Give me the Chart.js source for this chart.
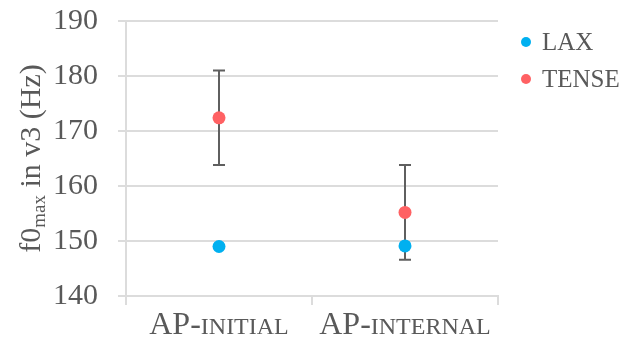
<!DOCTYPE html>
<html>
<head>
<meta charset="utf-8">
<script src="https://cdn.jsdelivr.net/npm/chart.js@4.4.1/dist/chart.umd.min.js"></script>
<style>
  html, body { margin: 0; padding: 0; background: #fff; }
  #wrap { width: 620px; height: 349px; }
</style>
</head>
<body>
<div id="wrap"><canvas id="f0Chart"></canvas></div>
<script>
const categories = ["AP-initial", "AP-internal"];
const laxValues = [149.0, 149.1];
const tenseValues = [172.4, 155.2];
const tenseErr = [8.6, 8.6];
const yTicks = [140, 150, 160, 170, 180, 190];

const SERIF = "'Liberation Serif', 'Times New Roman', serif";
const TEXT_GREY = "#595959";
const GRID_GREY = "#dcdcdc";

// vertical error bars for any dataset that carries an err array
const errorBars = {
  id: "errorBars",
  beforeDatasetsDraw(chart) {
    const ctx = chart.ctx;
    const yScale = chart.scales.y;
    chart.data.datasets.forEach((ds, i) => {
      if (!ds.err) return;
      const meta = chart.getDatasetMeta(i);
      ctx.save();
      ctx.strokeStyle = "#5f5f5f";
      ctx.lineWidth = 2;
      meta.data.forEach((pt, j) => {
        const top = yScale.getPixelForValue(ds.data[j] + ds.err[j]);
        const bot = yScale.getPixelForValue(ds.data[j] - ds.err[j]);
        ctx.beginPath();
        ctx.moveTo(pt.x, top);
        ctx.lineTo(pt.x, bot);
        ctx.moveTo(pt.x - 6, top);
        ctx.lineTo(pt.x + 6, top);
        ctx.moveTo(pt.x - 6, bot);
        ctx.lineTo(pt.x + 6, bot);
        ctx.stroke();
      });
      ctx.restore();
    });
  }
};

// category labels in small caps, axis title with subscript, legend on the right
const textLayer = {
  id: "textLayer",
  afterDraw(chart) {
    const ctx = chart.ctx;
    const area = chart.chartArea;
    const xScale = chart.scales.x;
    ctx.save();
    ctx.fillStyle = TEXT_GREY;
    ctx.textBaseline = "alphabetic";

    categories.forEach((label, i) => {
      const cut = label.indexOf("-") + 1;
      const head = label.slice(0, cut);
      const tail = label.slice(cut).toUpperCase();
      ctx.font = "32px " + SERIF;
      const wHead = ctx.measureText(head).width;
      ctx.font = "24px " + SERIF;
      const wTail = ctx.measureText(tail).width;
      const x0 = xScale.getPixelForValue(i) - (wHead + wTail) / 2;
      ctx.textAlign = "left";
      ctx.font = "32px " + SERIF;
      ctx.fillText(head, x0, 334);
      ctx.font = "24px " + SERIF;
      ctx.fillText(tail, x0 + wHead, 334);
    });

    const parts = [
      { t: "f0", size: 30, dy: 0 },
      { t: "max", size: 19, dy: 5 },
      { t: " in v3 (Hz)", size: 30, dy: 0 }
    ];
    let total = 0;
    parts.forEach(p => {
      ctx.font = p.size + "px " + SERIF;
      p.w = ctx.measureText(p.t).width;
      total += p.w;
    });
    ctx.translate(40, (area.top + area.bottom) / 2);
    ctx.rotate(-Math.PI / 2);
    let cx = -total / 2;
    parts.forEach(p => {
      ctx.font = p.size + "px " + SERIF;
      ctx.fillText(p.t, cx, p.dy);
      cx += p.w;
    });
    ctx.restore();

    ctx.save();
    ctx.font = "25px " + SERIF;
    ctx.textBaseline = "middle";
    chart.data.datasets.forEach((ds, i) => {
      const cy = 42 + i * 37;
      ctx.fillStyle = ds.pointBackgroundColor;
      ctx.beginPath();
      ctx.arc(526, cy, 5, 0, Math.PI * 2);
      ctx.fill();
      ctx.fillStyle = TEXT_GREY;
      ctx.fillText(ds.label, 542, cy + 1);
    });
    ctx.restore();
  }
};

new Chart(document.getElementById("f0Chart"), {
  type: "line",
  data: {
    labels: categories,
    datasets: [
      {
        label: "LAX",
        data: laxValues,
        showLine: false,
        pointRadius: 6.5,
        pointHoverRadius: 6.5,
        pointBorderWidth: 0,
        pointBackgroundColor: "#00b0f0"
      },
      {
        label: "TENSE",
        data: tenseValues,
        err: tenseErr,
        showLine: false,
        pointRadius: 6.5,
        pointHoverRadius: 6.5,
        pointBorderWidth: 0,
        pointBackgroundColor: "#ff6163"
      }
    ]
  },
  options: {
    animation: false,
    responsive: true,
    maintainAspectRatio: false,
    layout: { padding: { top: 21, right: 122, bottom: 0, left: 0 } },
    plugins: {
      legend: { display: false },
      tooltip: { enabled: false }
    },
    scales: {
      x: {
        type: "category",
        offset: true,
        afterFit: scale => {
          scale.height = 53;
          scale.paddingLeft = 0;
          scale.paddingRight = 0;
        },
        grid: {
          offset: true,
          drawOnChartArea: false,
          drawTicks: true,
          tickLength: 9,
          color: GRID_GREY,
          lineWidth: 2
        },
        border: { color: GRID_GREY, width: 2 },
        ticks: { display: false }
      },
      y: {
        min: 140,
        max: 190,
        afterFit: scale => {
          scale.width = 126;
          scale.paddingTop = 0;
          scale.paddingBottom = 0;
        },
        afterBuildTicks: scale => {
          scale.ticks = yTicks.map(v => ({ value: v }));
        },
        grid: {
          color: GRID_GREY,
          lineWidth: 2,
          tickLength: 8
        },
        border: { color: GRID_GREY, width: 2 },
        ticks: {
          padding: 20,
          color: TEXT_GREY,
          font: { family: SERIF, size: 30 }
        }
      }
    }
  },
  plugins: [errorBars, textLayer]
});
</script>
</body>
</html>
